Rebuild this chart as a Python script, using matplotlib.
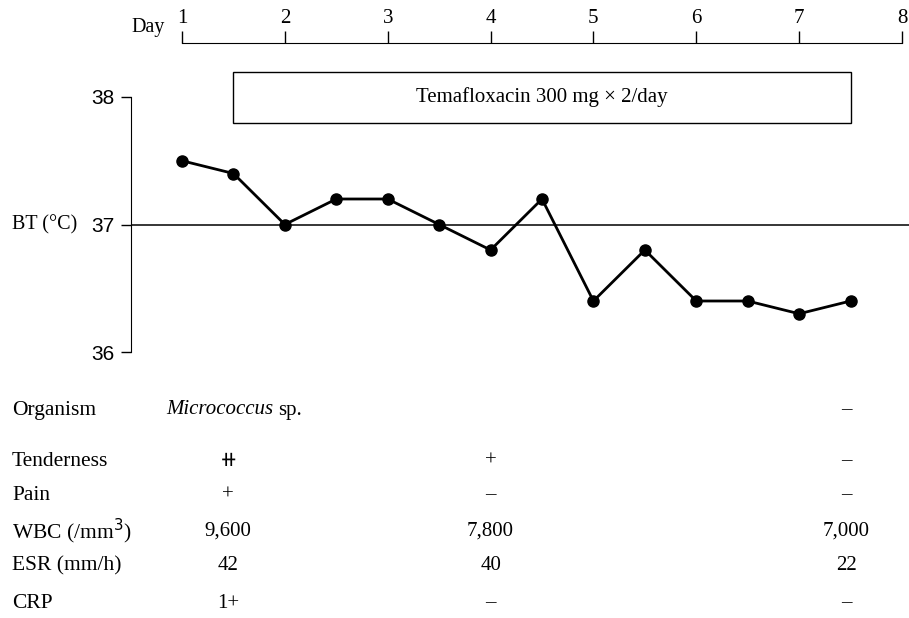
import matplotlib.pyplot as plt
import matplotlib.transforms as mtransforms
from matplotlib.patches import Rectangle

plt.rcParams['font.family'] = ['Liberation Serif', 'DejaVu Serif', 'DejaVu Sans']

# body temperature, every half day
days = [1, 1.5, 2, 2.5, 3, 3.5, 4, 4.5, 5, 5.5, 6, 6.5, 7, 7.5]
temps = [37.5, 37.4, 37.0, 37.2, 37.2, 37.0, 36.8, 37.2, 36.4, 36.8, 36.4, 36.4, 36.3, 36.4]

# treatment period
drug_start = 1.5
drug_end = 7.5
drug_label = "Temafloxacin 300 mg \u00d7 2/day"

# table under the chart
row_labels = ["Organism", "Tenderness", "Pain", "WBC (/mm$^3$)", "ESR (mm/h)", "CRP"]
row_ypix = [410, 461, 495, 531, 566, 603]
col_days = [1.45, 4.0, 7.46]
organism = ["", "", "\u2013"]
tenderness = ["\u29fa", "+", "\u2013"]
pain = ["+", "\u2013", "\u2013"]
wbc = ["9,600", "7,800", "7,000"]
esr = ["42", "40", "22"]
crp = ["1+", "\u2013", "\u2013"]

W, H = 909, 618
fig = plt.figure(figsize=(W / 100, H / 100), dpi=100)
ax = fig.add_axes([131 / W, 1 - 352 / H, (W - 131) / W, (352 - 43) / H])

ppd = (902 - 182) / 7.0
ppt = (352 - 97) / 2.0
ax.set_xlim(1 - (182 - 131) / ppd, 8 + (W - 902) / ppd)
ax.set_ylim(36, 38 + (97 - 43) / ppt)

ax.axhline(37, color='black', lw=1.1)
ax.plot(days, temps, color='black', lw=2.0, marker='o', ms=8, zorder=3)

ax.add_patch(Rectangle((drug_start, 37.8), drug_end - drug_start, 0.4,
                       fill=False, edgecolor='black', lw=1.0))
ax.text((drug_start + drug_end) / 2, 38.0, drug_label, ha='center', va='center', fontsize=15)

# spines: top is the day axis, left the temperature axis
ax.spines['right'].set_visible(False)
ax.spines['bottom'].set_visible(False)
ax.spines['top'].set_bounds(1, 8)
ax.spines['left'].set_bounds(36, 38)
ax.xaxis.set_ticks_position('top')
ax.set_xticks(range(1, 9))
ax.tick_params(axis='x', direction='out', length=9, width=1, labelsize=15, pad=2)
ax.set_yticks([36, 37, 38])
ax.tick_params(axis='y', direction='out', length=7, width=1, labelsize=15, pad=5)
for lab in ax.get_yticklabels():
    lab.set_family('Liberation Sans')

ax.text(0.835, 1.02, "Day", transform=ax.get_xaxis_transform(), ha='right', va='bottom', fontsize=14.5)
fig.text(12 / W, 1 - 225 / H, "BT (\u00b0C)", ha='left', va='center', fontsize=14.5)

# table
blend = mtransforms.blended_transform_factory(ax.transData, fig.transFigure)
rows = [organism, tenderness, pain, wbc, esr, crp]
for lab, yp, vals in zip(row_labels, row_ypix, rows):
    yf = 1 - yp / H
    fig.text(12 / W, yf, lab, ha='left', va='center', fontsize=15.5)
    for d, v in zip(col_days, vals):
        if v:
            ax.text(d, yf, v, transform=blend, ha='center', va='center', fontsize=15, clip_on=False)

mic = ax.text(1 + (166 - 182) / ppd, 1 - 410 / H, "Micrococcus", transform=blend,
              ha='left', va='center', fontsize=15, style='italic')
fig.canvas.draw()
bb = mic.get_window_extent()
fig.text((bb.x1 + 5) / W, 1 - 410 / H, "sp.", ha='left', va='center', fontsize=15)

fig.savefig("out.png", dpi=100)
